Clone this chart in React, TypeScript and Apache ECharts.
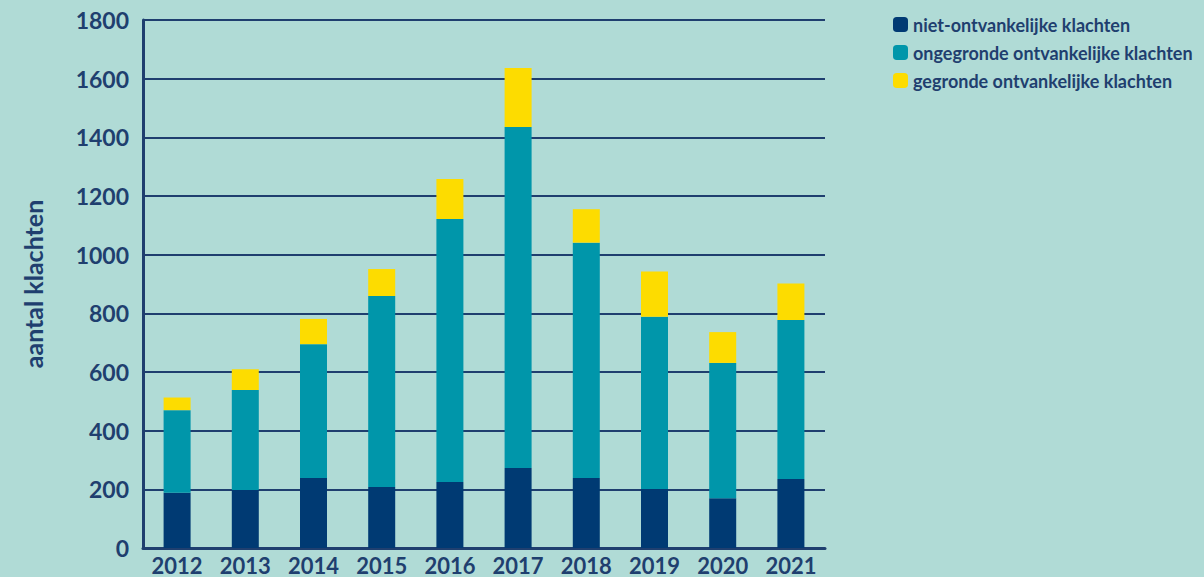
import React, { useEffect, useRef } from "react";
import * as echarts from "echarts";

const years = ["2012", "2013", "2014", "2015", "2016", "2017", "2018", "2019", "2020", "2021"];
const nietOntvankelijk = [188, 198, 239, 208, 225, 273, 239, 201, 170, 235];
const ongegrond = [282, 341, 456, 651, 897, 1162, 802, 587, 461, 542];
const gegrond = [43, 70, 86, 92, 136, 201, 114, 155, 105, 125];
const seriesNames = [
  "niet-ontvankelijke klachten",
  "ongegronde ontvankelijke klachten",
  "gegronde ontvankelijke klachten",
];

const NAVY_TEXT = "#1f3f6f";
const FONT = "Lato, 'Open Sans', sans-serif";

export default function App() {
  const ref = useRef<HTMLDivElement>(null);
  useEffect(() => {
    document.body.style.margin = "0";
    const chart = echarts.init(ref.current!, null, { renderer: "svg" });
    chart.setOption({
      animation: false,
      backgroundColor: "#b0dbd6",
      textStyle: { fontFamily: FONT },
      legend: {
        orient: "vertical",
        left: 888,
        top: 9,
        itemWidth: 15,
        itemHeight: 15,
        itemGap: 7,
        icon: "roundRect",
        textStyle: { color: NAVY_TEXT, fontSize: 18, fontWeight: "bold", fontFamily: FONT, lineHeight: 21 },
        data: seriesNames,
      },
      grid: { left: 143, right: 379, top: 20, bottom: 29, containLabel: false },
      xAxis: {
        type: "category",
        data: years,
        axisLine: { show: true, lineStyle: { color: NAVY_TEXT, width: 3 } },
        axisTick: { show: false },
        axisLabel: { interval: 0, color: NAVY_TEXT, fontSize: 22, fontWeight: "bold", margin: 6, fontFamily: FONT, lineHeight: 22 },
      },
      yAxis: {
        type: "value",
        min: 0,
        max: 1800,
        interval: 200,
        name: "aantal klachten",
        nameLocation: "middle",
        nameGap: 98,
        nameTextStyle: { color: NAVY_TEXT, fontSize: 25, fontWeight: "bold", fontFamily: FONT },
        axisLine: { show: true, lineStyle: { color: NAVY_TEXT, width: 3 } },
        axisTick: { show: false },
        axisLabel: {
          color: NAVY_TEXT,
          fontSize: 23,
          fontWeight: "bold",
          margin: 14,
          fontFamily: FONT,
          formatter: (v: number) => String(v),
        },
        splitLine: { show: true, lineStyle: { color: NAVY_TEXT, width: 2 } },
      },
      series: [
        { name: seriesNames[0], type: "bar", stack: "t", data: nietOntvankelijk, barWidth: 27, itemStyle: { color: "#003a73" } },
        { name: seriesNames[1], type: "bar", stack: "t", data: ongegrond, barWidth: 27, itemStyle: { color: "#0096aa" } },
        { name: seriesNames[2], type: "bar", stack: "t", data: gegrond, barWidth: 27, itemStyle: { color: "#fddc00" } },
      ],
    });
    return () => chart.dispose();
  }, []);
  return <div ref={ref} style={{ position: "absolute", left: 0, top: 0, width: 1204, height: 577 }} />;
}
